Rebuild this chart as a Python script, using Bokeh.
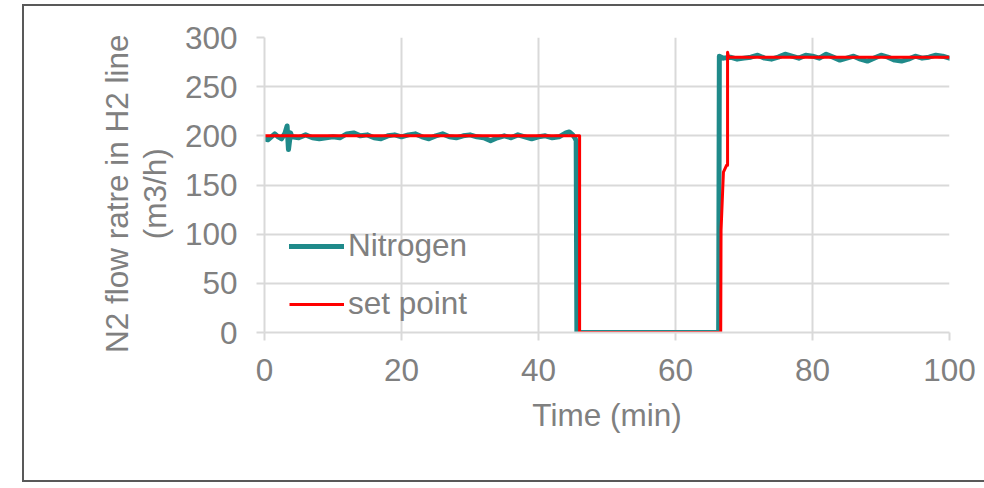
from bokeh.plotting import figure
from bokeh.models import Range1d, FixedTicker, Legend, LegendItem, InlineStyleSheet
from bokeh.embed import file_html
from bokeh.resources import INLINE

# Nitrogen measured flow (m3/h) vs time (min)
n2_time = [0, 0.5, 1, 1.5, 2, 2.5, 3, 3.3, 3.5, 3.8, 4, 5, 6, 7, 8, 9, 10, 11, 12, 13, 14,
           15, 16, 17, 18, 19, 20, 21, 22, 23, 24, 25, 26, 27, 28, 29, 30, 31, 32, 33, 34,
           35, 36, 37, 38, 39, 40, 41, 42, 43, 44, 44.5, 45, 45.3, 45.5, 45.6,
           66.2, 66.3, 66.4, 67, 68, 69, 70, 71, 72, 73, 74, 75, 76, 77, 78, 79, 80, 81,
           82, 83, 84, 85, 86, 87, 88, 89, 90, 91, 92, 93, 94, 95, 96, 97, 98, 99, 100]
n2_flow = [197, 196, 199, 202, 199, 197, 203, 210, 186, 203, 199, 198, 201, 198, 197, 198,
           199, 198, 202, 203, 200, 201, 198, 197, 200, 201, 199, 201, 202, 199, 197, 200,
           202, 199, 198, 200, 201, 199, 198, 195, 198, 200, 198, 201, 199, 197, 199, 200,
           198, 199, 203, 204, 201, 198, 195, 0,
           0, 0, 281, 279, 280, 278, 279, 280, 282, 279, 278, 280, 283, 281, 279, 282,
           281, 279, 283, 280, 277, 279, 281, 278, 276, 279, 282, 280, 277, 276, 278, 281,
           279, 280, 282, 281, 279]

# Set point (m3/h)
sp_time = [0, 46.0, 46.0, 66.6, 66.65, 66.9, 67.0, 67.45, 67.6, 67.6, 67.75, 100]
sp_flow = [200, 200, 0, 0, 104, 147, 163, 170, 170, 285, 280, 280]

x_ticks = [0, 20, 40, 60, 80, 100]
y_ticks = [0, 50, 100, 150, 200, 250, 300]

TEAL = "#1F8A8A"
RED = "#FF0000"
GRID = "#D9D9D9"
TXT = "#808080"
FONT = "Liberation Sans"
FS = "31.5px"
NB = "\u00a0"

frame_css = InlineStyleSheet(css="""
:host { position: relative; }
:host::after {
  content: "";
  position: absolute;
  left: 22px;
  top: 4px;
  width: 1000px;
  height: 474px;
  border-left: 2px solid #595959;
  border-top: 2px solid #595959;
  border-bottom: 2px solid #595959;
  pointer-events: none;
  z-index: 10;
}
""")

p = figure(width=984, height=488, output_backend="svg", toolbar_location=None,
           x_range=Range1d(0, 100), y_range=Range1d(0, 300),
           min_border_left=264, min_border_right=35, min_border_top=37,
           min_border_bottom=156)
p.stylesheets = [frame_css]
p.outline_line_color = None
p.background_fill_color = "white"
p.border_fill_color = "white"

r_n2 = p.line(n2_time, n2_flow, line_color=TEAL, line_width=5, line_join="round",
              line_cap="round")
r_sp = p.line(sp_time, sp_flow, line_color=RED, line_width=3, line_join="round")

for ax in (p.xaxis[0], p.yaxis[0]):
    ax.axis_line_color = GRID
    ax.axis_line_width = 2
    ax.major_tick_line_color = GRID
    ax.major_tick_line_width = 2
    ax.major_tick_out = 8
    ax.major_tick_in = 0
    ax.minor_tick_line_color = None
    ax.major_label_text_font = FONT
    ax.major_label_text_font_size = FS
    ax.major_label_text_color = TXT
    ax.axis_label_text_font = FONT
    ax.axis_label_text_font_size = FS
    ax.axis_label_text_color = TXT
    ax.axis_label_text_font_style = "normal"

p.xaxis.ticker = FixedTicker(ticks=x_ticks)
p.yaxis.ticker = FixedTicker(ticks=y_ticks)
p.xaxis.axis_label = "Time (min)"
p.yaxis.axis_label = "N2 flow ratre in H2 line" + NB * 2 + "\n(m3/h)" + NB * 2
p.yaxis.axis_label_text_line_height = 1.05
p.xaxis.major_label_standoff = 18
p.xaxis.axis_label_standoff = 13
p.yaxis.axis_label_standoff = 9
p.yaxis.major_label_standoff = 19

p.xgrid.ticker = FixedTicker(ticks=x_ticks)
p.ygrid.ticker = FixedTicker(ticks=y_ticks)
p.xgrid.grid_line_color = GRID
p.ygrid.grid_line_color = GRID
p.xgrid.grid_line_width = 2
p.ygrid.grid_line_width = 2

legend = Legend(items=[LegendItem(label="Nitrogen", renderers=[r_n2]),
                       LegendItem(label="set point", renderers=[r_sp])],
                location=(25, 10), padding=0, margin=0, spacing=21,
                glyph_width=55, glyph_height=30, label_height=30, label_standoff=4,
                label_text_font=FONT, label_text_font_size=FS,
                label_text_color=TXT, background_fill_alpha=0,
                border_line_color=None)
p.add_layout(legend)

open("out.html", "w").write(file_html(p, INLINE))
